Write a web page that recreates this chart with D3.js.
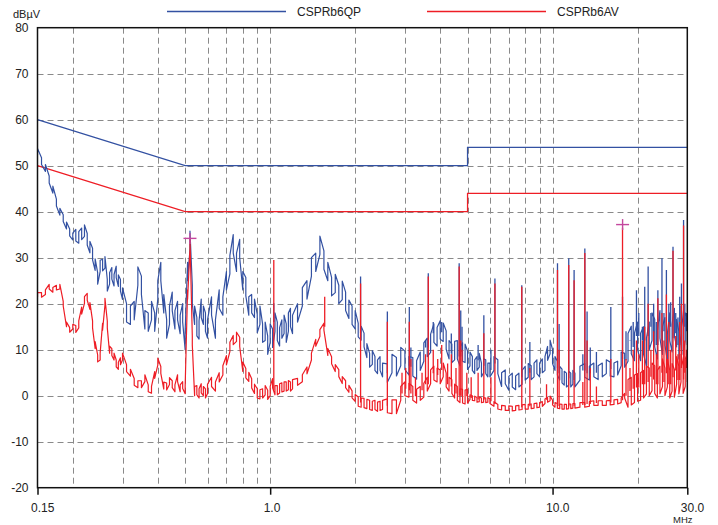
<!DOCTYPE html>
<html>
<head>
<meta charset="utf-8">
<script src="https://cdn.jsdelivr.net/npm/d3@7"></script>
<style>
  html, body { margin: 0; padding: 0; background: #fff; }
  svg { display: block; font-family: "Liberation Sans", Arial, Helvetica, sans-serif; }
</style>
</head>
<body>
<svg id="chart" width="718" height="525"></svg>
<script>
// Sweep frequencies (MHz)
const freqs = [
  0.150,0.155,0.160,0.165,0.170,0.175,0.180,0.185,0.190,0.195,0.200,0.205,0.210,0.215,0.220,0.225,
  0.230,0.235,0.240,0.245,0.250,0.255,0.260,0.265,0.270,0.275,0.280,0.285,0.290,0.295,0.300,
  0.31,0.32,0.33,0.34,0.35,0.36,0.37,0.38,0.39,0.40,0.41,0.42,0.43,0.44,0.45,0.46,0.47,0.48,0.49,0.50,
  0.51,0.52,0.53,0.54,0.55,0.56,0.57,0.58,0.59,0.60,
  0.62,0.64,0.66,0.68,0.70,0.72,0.74,0.76,0.78,0.80,0.82,0.84,0.86,0.88,0.90,0.92,0.94,0.96,0.98,1.00,
  1.02,1.04,1.06,1.08,1.10,1.12,1.14,1.16,1.18,1.20,
  1.25,1.30,1.35,1.40,1.45,1.50,1.55,1.60,1.65,1.70,1.75,1.80,1.85,1.90,1.95,2.00,2.05,2.10,2.15,2.20,
  2.25,2.30,2.35,2.40,2.45,2.50,
  2.6,2.7,2.8,2.9,3.0,3.1,3.2,3.3,3.4,3.5,3.6,3.7,3.8,3.9,4.0,4.1,4.2,4.3,4.4,4.5,4.6,4.7,4.8,4.9,5.0,
  5.1,5.2,5.3,5.4,5.5,5.6,5.7,5.8,5.9,6.0,
  6.2,6.4,6.6,6.8,7.0,7.2,7.4,7.6,7.8,8.0,8.2,8.4,8.6,8.8,9.0,9.2,9.4,9.6,9.8,10.0,
  10.2,10.4,10.6,10.8,11.0,11.2,11.4,11.6,11.8,12.0,
  12.5,13.0,13.5,14.0,14.5,15.0,15.5,16.0,16.5,17.0,17.5,18.0,18.5,19.0,19.5,20.0,20.5,21.0,21.5,22.0,
  22.5,23.0,23.5,24.0,24.5,25.0,25.5,26.0,26.5,27.0,27.5,28.0,28.5,29.0,29.5,30.0
];

// Quasi-peak trace (dBµV)
const qpLevels = [
  53.0,51.0,49.5,47.0,44.8,42.0,40.0,38.6,37.0,35.5,34.6,34.9,34.4,35.2,35.9,34.0,
  32.3,30.8,28.5,25.5,28.2,28.4,29.0,24.0,25.5,26.6,25.1,26.9,25.0,24.0,22.2,
  18.0,17.5,18.5,26.0,24.0,16.5,16.0,18.5,16.0,23.0,27.0,20.0,14.5,17.5,20.5,16.5,18.5,15.5,18.0,12.0,
  27.0,33.8,22.0,17.5,15.0,14.3,19.0,17.5,16.0,14.5,
  19.5,14.5,21.0,19.5,25.0,28.5,33.0,29.0,32.0,25.0,23.7,19.5,20.0,19.0,15.7,17.5,13.6,14.0,11.0,13.6,
  12.5,16.0,14.0,12.8,14.5,15.5,13.6,16.0,17.0,15.5,
  18.0,21.5,23.0,28.0,29.0,32.7,29.5,27.0,23.7,24.4,22.0,22.9,20.5,18.8,17.5,16.5,14.3,13.6,12.1,9.8,
  7.7,8.3,7.0,6.3,7.0,5.6,
  4.9,7.0,6.3,8.5,7.7,6.5,6.3,5.6,7.5,9.5,10.5,11.4,13.6,12.8,14.3,13.8,12.1,10.0,9.2,9.8,10.0,8.5,9.5,9.2,7.7,
  8.0,7.0,6.3,7.0,7.7,5.6,6.5,6.3,5.6,5.6,
  7.0,6.3,3.5,4.1,2.7,3.4,2.8,3.4,4.0,4.9,5.5,5.0,5.6,6.3,5.6,6.5,7.0,9.2,10.6,8.5,
  7.0,6.0,4.9,4.3,3.8,3.4,3.8,3.4,4.0,3.4,
  4.9,5.5,4.9,5.6,5.0,5.6,6.3,5.8,5.6,6.0,8.0,7.7,10.5,12.1,10.6,13.0,10.6,12.0,9.5,13.0,
  15.0,13.6,11.0,15.5,12.0,14.0,10.5,15.0,12.5,16.0,13.6,11.0,16.5,12.0,15.0,14.0
];

// Average trace (dBµV)
const avLevels = [
  21.9,21.9,22.5,23.7,23.0,23.5,23.7,20.0,15.5,14.3,15.0,14.5,15.5,18.5,20.8,21.5,
  19.5,15.5,11.0,8.1,8.5,15.0,20.4,15.5,10.0,9.5,8.5,7.0,6.5,7.5,8.5,
  6.0,5.0,3.0,2.5,2.5,3.8,1.6,1.3,4.5,7.4,5.6,2.2,2.0,3.2,2.5,1.6,3.8,1.6,2.3,1.2,
  22.0,33.0,12.0,1.0,1.2,0.5,1.6,1.0,0.5,1.5,
  3.0,2.0,4.0,5.5,7.7,10.6,12.1,12.8,11.7,6.3,4.9,4.1,2.7,1.5,0.5,0.3,0.5,1.2,0.2,1.0,
  2.7,1.2,1.2,1.6,1.8,2.0,2.0,2.3,2.0,2.5,
  3.0,3.8,5.5,8.5,11.5,13.6,15.0,9.5,7.7,6.0,4.9,3.4,2.5,1.5,0.3,-0.5,-1.3,-1.5,-1.6,-1.8,
  -2.0,-2.2,-2.0,-2.4,-2.2,-2.0,
  -2.2,-2.4,-2.4,0.5,1.5,1.2,0.5,-0.1,0.5,1.2,2.5,4.1,4.9,4.5,4.1,5.6,3.4,2.5,2.0,1.0,0.5,0.0,-0.1,-0.3,-0.1,
  -0.3,-0.5,-0.6,-0.9,-0.8,-1.0,-0.9,-1.0,-0.9,-1.2,
  -1.8,-2.4,-2.6,-2.7,-2.7,-2.8,-2.7,-2.6,-2.5,-2.4,-2.4,-2.3,-2.2,-2.1,-2.0,-1.8,-1.2,-0.9,-0.6,-1.5,
  -2.0,-2.2,-2.3,-2.4,-2.4,-2.4,-2.3,-2.3,-2.2,-2.2,
  -2.0,-2.0,-1.8,-1.6,-1.6,-1.6,-1.6,-1.5,-1.4,-1.3,-1.0,0.0,0.5,1.0,1.5,1.8,2.0,2.5,3.4,3.0,
  4.1,3.5,2.5,3.4,5.0,3.0,4.9,2.5,4.0,2.7,5.5,3.4,6.0,3.5,5.0,6.0
];

// Min/max spread of each sweep bin (dB), per frequency band ending at the given edge
const spreadEdges = [0.2, 0.3, 0.5, 1.2, 2.0, 2.5, 5.0, 12, 18, 30];
const qpSpread    = [1.5, 2.5, 4.0, 4.0, 4.0, 3.0, 4.0, 3.0, 3.0, 6.0];
const avSpread    = [1.0, 1.5, 1.5, 2.0, 1.5, 2.0, 3.0, 1.0, 1.0, 6.0];

// Narrow-band emission lines: frequency (MHz), QP peak, AV peak (null = no line)
const spikeFreqs = [
  1.03,1.56,2.09,2.60,2.93,3.02,3.11,3.15,3.27,3.45,3.55,3.63,3.78,3.92,4.05,4.25,4.38,4.55,4.67,4.73,
  4.78,4.97,5.15,5.45,5.71,6.05,6.25,7.78,8.31,9.52,10.41,10.55,11.41,11.92,12.8,13.01,13.25,13.6,14.3,
  16.08,17.69,18.2,18.8,19.3,19.82,20.2,20.8,21.2,21.8,22.3,22.8,23.3,23.6,24.4,24.8,25.3,25.8,26.2,
  26.7,27.3,27.8,28.2,28.6,29.1,29.4,29.8
];
const spikeQP = [
  20.1,null,25.9,18.3,null,null,19.3,10.5,null,null,12.0,26.6,16.0,null,16.0,null,13.5,null,28.8,18.5,
  15.0,null,null,11.0,17.5,10.0,25.5,24.0,11.7,9.5,28.8,15.6,29.9,27.3,9.0,32.0,18.3,10.5,9.5,
  19.3,21.5,14.0,12.0,16.0,22.9,18.0,15.0,23.7,28.1,18.0,20.0,16.0,22.9,29.9,18.0,27.3,20.0,20.3,
  32.4,18.0,17.0,21.5,24.4,38.2,20.0,18.0
];
const spikeAV = [
  29.5,21.5,24.4,16.1,5.0,6.0,16.1,8.0,4.0,5.0,9.0,25.9,10.0,8.0,11.0,7.0,9.0,6.0,28.1,12.0,
  10.0,5.0,4.0,5.0,13.6,4.0,24.4,23.7,6.0,2.5,27.3,10.0,28.4,25.1,3.0,31.0,12.0,6.0,2.0,
  8.0,36.5,8.0,6.0,10.0,12.0,9.0,12.0,15.0,20.0,10.0,14.0,9.0,21.2,18.0,12.0,22.0,16.0,10.0,
  31.5,13.0,9.0,16.0,20.0,37.0,12.0,10.0
];

// Limit lines
const qpLimitFreqs = [0.15, 0.5, 5, 5, 30];
const qpLimitLevels = [60, 50, 50, 54, 54];
const avLimitFreqs = [0.15, 0.5, 5, 5, 30];
const avLimitLevels = [50, 40, 40, 44, 44];

// Peak markers
const markerFreqs = [0.52, 17.7];
const markerLevels = [34.2, 37.2];

// Axes
const yTicks = [-20, -10, 0, 10, 20, 30, 40, 50, 60, 70, 80];
const yGridTicks = [-10, 0, 10, 20, 30, 40, 50, 60, 70];
const xGridTicks = [0.2,0.3,0.4,0.5,0.6,0.7,0.8,0.9,1,2,3,4,5,6,7,8,9,10,20];
const xLabelTicks = [0.15, 1, 10, 30];
const xLabelText = ["0.15", "1.0", "10.0", "30.0"];

const seriesNames = ["CSPRb6QP", "CSPRb6AV"];
const BLUE = "#3351a2";
const RED = "#ee1d25";

const svg = d3.select("#chart");
const x = d3.scaleLog().domain([0.15, 30]).range([37.5, 687.3]);
const y = d3.scaleLinear().domain([-20, 80]).range([487.7, 27.7]);
const crisp = v => Math.round(v) + 0.5;

svg.append("defs").append("clipPath").attr("id", "plot-clip")
  .append("rect").attr("x", x(0.15)).attr("y", y(80))
  .attr("width", x(30) - x(0.15)).attr("height", y(-20) - y(80));

// Dashed grid
const grid = svg.append("g")
  .attr("stroke", "#8a8a8a").attr("stroke-width", 1)
  .attr("stroke-dasharray", "6,4").attr("fill", "none");
grid.selectAll("line.gv").data(xGridTicks).join("line").attr("class", "gv")
  .attr("x1", d => crisp(x(d))).attr("x2", d => crisp(x(d)))
  .attr("y1", y(80)).attr("y2", y(-20));
grid.selectAll("line.gh").data(yGridTicks).join("line").attr("class", "gh")
  .attr("x1", x(0.15)).attr("x2", x(30))
  .attr("y1", d => crisp(y(d))).attr("y2", d => crisp(y(d)));

const plot = svg.append("g").attr("clip-path", "url(#plot-clip)");
const line = d3.line().x(d => x(d[0])).y(d => y(d[1]));

// Limit lines
plot.append("path")
  .datum(qpLimitFreqs.map((f, i) => [f, qpLimitLevels[i]]))
  .attr("d", line).attr("fill", "none").attr("stroke", BLUE).attr("stroke-width", 1.3);
plot.append("path")
  .datum(avLimitFreqs.map((f, i) => [f, avLimitLevels[i]]))
  .attr("d", line).attr("fill", "none").attr("stroke", RED).attr("stroke-width", 1.3);

// Nearest sweep point for the foot of an emission line
const bis = d3.bisector(d => d).left;
function nearestIndex(f) {
  const i = bis(freqs, f);
  if (i <= 0) return 0;
  if (i >= freqs.length) return freqs.length - 1;
  return (f / freqs[i - 1] < freqs[i] / f) ? i - 1 : i;
}
function bandSpread(f, spreads) {
  const i = d3.bisectLeft(spreadEdges, f);
  return spreads[Math.min(i, spreads.length - 1)];
}

// Each sweep bin is drawn as its min/max pair, like a min/max detector display
function drawTrace(levels, spreads, peaks, color) {
  const pts = [];
  freqs.forEach((f, i) => {
    const s = bandSpread(f, spreads) / 2;
    const lo = [f, levels[i] - s], hi = [f, levels[i] + s];
    if (i % 2 === 0) pts.push(lo, hi); else pts.push(hi, lo);
  });
  plot.append("path")
    .datum(pts)
    .attr("d", line).attr("fill", "none").attr("stroke", color)
    .attr("stroke-width", 1.2).attr("stroke-linejoin", "round");
  const lines = spikeFreqs.map((f, i) => ({ f, peak: peaks[i], base: levels[nearestIndex(f)] }))
    .filter(d => d.peak !== null);
  plot.append("g").selectAll("line").data(lines).join("line")
    .attr("x1", d => x(d.f)).attr("x2", d => x(d.f))
    .attr("y1", d => y(d.base)).attr("y2", d => y(d.peak))
    .attr("stroke", color).attr("stroke-width", 1.3);
}
drawTrace(qpLevels, qpSpread, spikeQP, BLUE);
drawTrace(avLevels, avSpread, spikeAV, RED);

// Peak markers
const mk = svg.append("g").attr("stroke", "#c4479e").attr("stroke-width", 1.4);
markerFreqs.forEach((f, i) => {
  const cx = x(f), cy = y(markerLevels[i]);
  mk.append("line").attr("x1", cx - 6.5).attr("x2", cx + 6.5).attr("y1", cy).attr("y2", cy);
  mk.append("line").attr("x1", cx).attr("x2", cx).attr("y1", cy - 5.5).attr("y2", cy + 5.5);
});

// Frame
svg.append("rect")
  .attr("x", x(0.15)).attr("y", y(80))
  .attr("width", x(30) - x(0.15)).attr("height", y(-20) - y(80))
  .attr("fill", "none").attr("stroke", "#111").attr("stroke-width", 1.5);

// Y axis labels
const gy = svg.append("g").attr("transform", `translate(${x(0.15)},0)`)
  .call(d3.axisLeft(y).tickValues(yTicks).tickSize(0).tickPadding(9).tickFormat(d => String(d)));
gy.select(".domain").remove();
gy.attr("font-family", null).attr("font-size", 12);
gy.selectAll("text").attr("fill", "#222");

// X axis ticks and labels
const gx = svg.append("g").attr("transform", `translate(0,${y(-20)})`)
  .call(d3.axisBottom(x).tickValues(xLabelTicks).tickSize(7).tickFormat((d, i) => xLabelText[i]));
gx.select(".domain").remove();
gx.attr("font-family", null).attr("font-size", 12).attr("color", "#111");
gx.selectAll("line").attr("stroke-width", 1.5);
gx.selectAll("text").attr("text-anchor", "start").attr("x", -7).attr("y", 24).attr("dy", null).attr("fill", "#222");

// Units
svg.append("text").attr("x", 13).attr("y", 18).attr("font-size", 11).attr("fill", "#222").text("dBµV");
svg.append("text").attr("x", 673).attr("y", 523).attr("font-size", 9.5).attr("fill", "#222").text("MHz");

// Legend
const legend = [
  { name: seriesNames[0], color: BLUE, x0: 167 },
  { name: seriesNames[1], color: RED, x0: 427 }
];
const lg = svg.append("g");
legend.forEach(d => {
  lg.append("line").attr("x1", d.x0).attr("x2", d.x0 + 119).attr("y1", 11.5).attr("y2", 11.5)
    .attr("stroke", d.color).attr("stroke-width", 1.3);
  lg.append("text").attr("x", d.x0 + 130).attr("y", 15.5).attr("font-size", 12).attr("fill", "#222").text(d.name);
});
</script>
</body>
</html>
